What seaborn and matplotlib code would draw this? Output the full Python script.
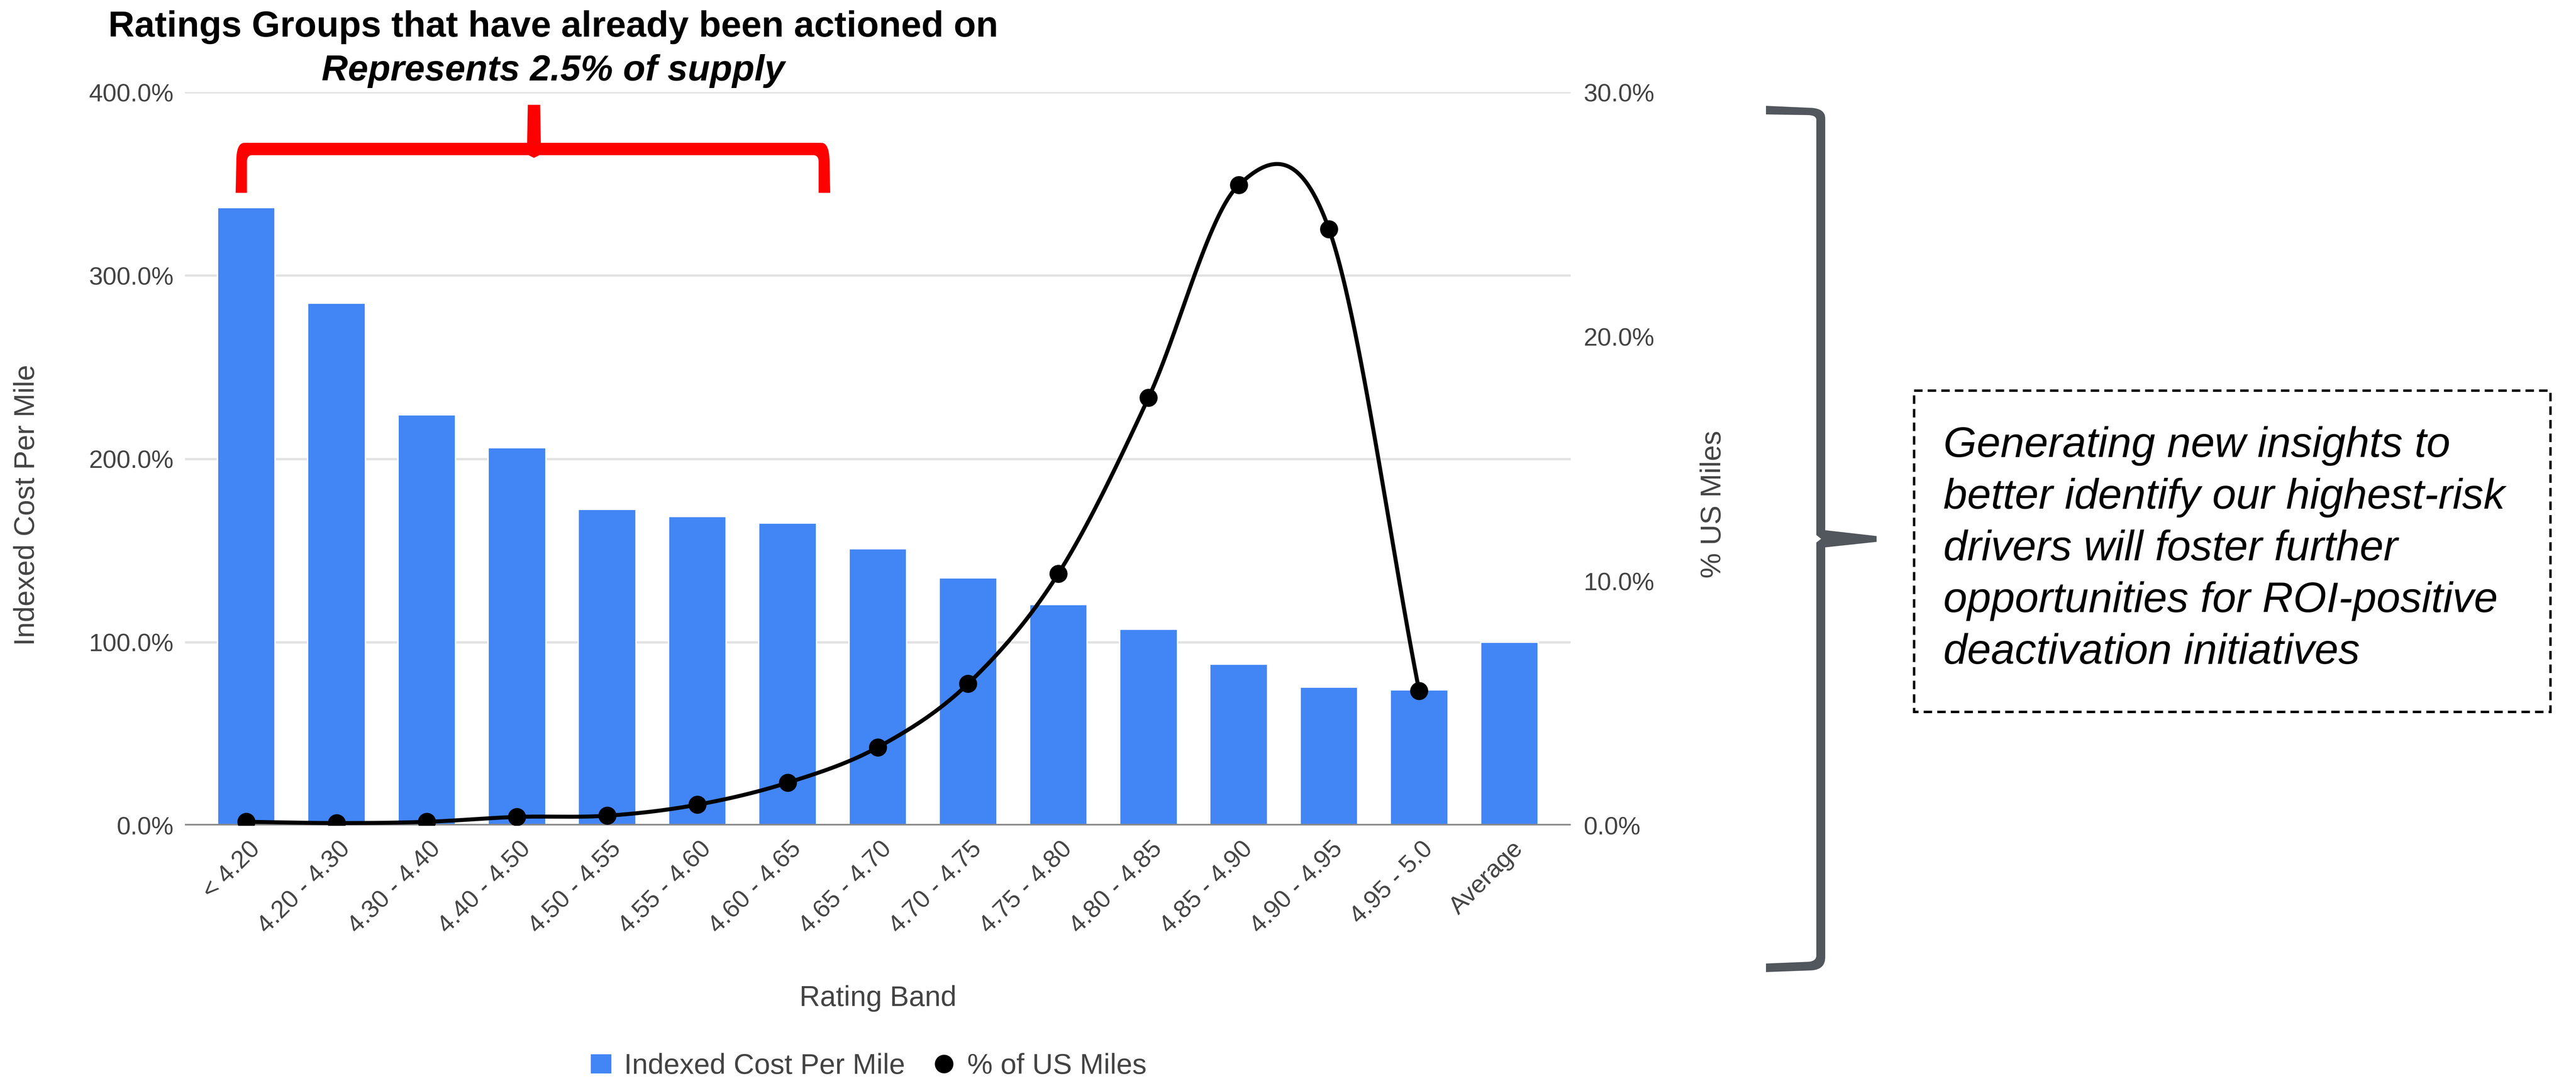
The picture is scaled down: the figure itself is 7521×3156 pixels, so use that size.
import numpy as np
import pandas as pd
import matplotlib
matplotlib.use("Agg")
import matplotlib.pyplot as plt
import matplotlib.transforms as mtransforms
import seaborn as sns
from matplotlib.patches import PathPatch, Rectangle, Patch
from matplotlib.path import Path
from matplotlib.lines import Line2D
from matplotlib.ticker import FuncFormatter, FixedLocator

# ---- data -------------------------------------------------------------
rating_bands = ["< 4.20", "4.20 - 4.30", "4.30 - 4.40", "4.40 - 4.50",
                "4.50 - 4.55", "4.55 - 4.60", "4.60 - 4.65", "4.65 - 4.70",
                "4.70 - 4.75", "4.75 - 4.80", "4.80 - 4.85", "4.85 - 4.90",
                "4.90 - 4.95", "4.95 - 5.0", "Average"]
indexed_cost_per_mile = [337, 285, 224, 206, 172.5, 168.5, 165, 151,
                         135, 120.5, 107, 88, 75.5, 74, 100]
# share of US miles per band (no value for the "Average" column)
pct_us_miles = [0.15, 0.1, 0.15, 0.35, 0.4, 0.85, 1.75, 3.2,
                5.8, 10.3, 17.5, 26.2, 24.4, 5.5]
left_ticks = [0, 100, 200, 300, 400]
right_ticks = [0, 10, 20, 30]

title_line1 = "Ratings Groups that have already been actioned on"
title_line2 = "Represents 2.5% of supply"
note_lines = ["Generating new insights to",
              "better identify our highest-risk",
              "drivers will foster further",
              "opportunities for ROI-positive",
              "deactivation initiatives"]

BAR_BLUE = "#4285f4"
TEXT_GREY = "#444444"

# ---- figure -----------------------------------------------------------
W, H, DPI = 7521, 3156, 300
sns.set_theme(style="white")
plt.rcParams["font.family"] = ["Liberation Sans", "DejaVu Sans"]

fig = plt.figure(figsize=(W / DPI, H / DPI), dpi=DPI)
fig.patch.set_facecolor("white")
# pixel coordinates measured from the top-left corner
PX = mtransforms.Affine2D().scale(1 / W, -1 / H).translate(0, 1) + fig.transFigure

ax = fig.add_axes([540 / W, 1 - 2410 / H, (4586 - 540) / W, (2410 - 269) / H])

df = pd.DataFrame({"Rating Band": rating_bands,
                   "Indexed Cost Per Mile": indexed_cost_per_mile})
sns.barplot(data=df, x="Rating Band", y="Indexed Cost Per Mile",
            order=rating_bands, color=BAR_BLUE, saturation=1, width=0.64,
            ax=ax, zorder=2)

ax.set_ylim(0, 400)
ax.yaxis.set_major_locator(FixedLocator(left_ticks))
ax.yaxis.set_major_formatter(FuncFormatter(lambda v, p: f"{v:.1f}%"))
ax.yaxis.grid(True, color="#e2e2e2", lw=1.6, zorder=0)
ax.set_axisbelow(True)
ax.axhline(0, color="#8a8a8a", lw=2.3, zorder=3)
for s in ax.spines.values():
    s.set_visible(False)
ax.tick_params(axis="y", length=0, pad=8, labelsize=17.5, labelcolor=TEXT_GREY)
ax.tick_params(axis="x", length=0, pad=14, labelsize=17.5, labelcolor=TEXT_GREY)
ax.set_xlabel("")
ax.set_ylabel("")

# secondary axis: share of US miles
ax2 = ax.twinx()
ax2.set_ylim(0, 30)
ax2.yaxis.set_major_locator(FixedLocator(right_ticks))
ax2.yaxis.set_major_formatter(FuncFormatter(lambda v, p: f"{v:.1f}%"))
ax2.grid(False)
for s in ax2.spines.values():
    s.set_visible(False)
ax2.tick_params(axis="y", length=0, pad=9, labelsize=17.5, labelcolor=TEXT_GREY)


def smooth_curve(ys, n=60):
    """Cubic Catmull-Rom curve through equally spaced points."""
    ys = np.asarray(ys, dtype=float)
    k = len(ys)
    xs_out, ys_out = [], []
    for i in range(k - 1):
        m0 = (ys[i + 1] - ys[i - 1]) / 2 if i > 0 else ys[1] - ys[0]
        m1 = (ys[i + 2] - ys[i]) / 2 if i + 2 < k else ys[-1] - ys[-2]
        t = np.linspace(0, 1, n)
        h00 = 2 * t**3 - 3 * t**2 + 1
        h10 = t**3 - 2 * t**2 + t
        h01 = -2 * t**3 + 3 * t**2
        h11 = t**3 - t**2
        xs_out.append(i + t)
        ys_out.append(h00 * ys[i] + h10 * m0 + h01 * ys[i + 1] + h11 * m1)
    return np.concatenate(xs_out), np.concatenate(ys_out)


cx, cy = smooth_curve(pct_us_miles)
ax2.plot(cx, cy, color="black", lw=2.8, solid_capstyle="round", zorder=4)
pts = pd.DataFrame({"pos": np.arange(len(pct_us_miles)), "miles": pct_us_miles})
sns.scatterplot(data=pts, x="pos", y="miles", ax=ax2, color="black",
                s=160, edgecolor="black", linewidth=0, legend=False, zorder=5)
ax2.set_xlabel("")
ax2.set_ylabel("")

ax.set_xlim(-0.68, 14.68)
ax.set_xticks(range(len(rating_bands)))
ax.set_xticklabels(rating_bands, rotation=45, ha="right", va="center",
                   rotation_mode="anchor")
shift = mtransforms.ScaledTranslation(29 / DPI, 0, fig.dpi_scale_trans)
for lab in ax.get_xticklabels():
    lab.set_transform(lab.get_transform() + shift)

# axis titles
fig.text(78 / W, 1 - 1475 / H, "Indexed Cost Per Mile", rotation=90,
         ha="center", va="center", fontsize=20, color=TEXT_GREY)
fig.text(5002 / W, 1 - 1472 / H, "% US Miles", rotation=90,
         ha="center", va="center", fontsize=20, color=TEXT_GREY)
fig.text(2563 / W, 1 - 2915 / H, "Rating Band", ha="center", va="center",
         fontsize=20, color=TEXT_GREY)

# legend
handles = [Patch(facecolor=BAR_BLUE, edgecolor="none"),
           Line2D([0], [0], marker="o", color="black", linestyle="None",
                  markersize=12)]
fig.legend(handles, ["Indexed Cost Per Mile", "% of US Miles"], loc="center",
           bbox_to_anchor=(2536 / W, 1 - 3113 / H), ncol=2, frameon=False,
           fontsize=20, labelcolor=TEXT_GREY, handlelength=0.72,
           handleheight=0.66, handletextpad=0.45, columnspacing=1.0)

# headline above the chart
fig.text(1615 / W, 1 - 107 / H, title_line1, ha="center", va="baseline",
         fontsize=25.5, fontweight="bold", color="black")
fig.text(1615 / W, 1 - 235 / H, title_line2, ha="center", va="baseline",
         fontsize=25.5, fontweight="bold", fontstyle="italic", color="black")

# red bracket over the already-actioned bands
M, L, C, Z = Path.MOVETO, Path.LINETO, Path.CURVE3, Path.CLOSEPOLY
red_verts = [
    ((688, 563), M), ((690, 470), L), ((690, 419), C), ((712, 417), C),
    ((1539, 417), L), ((1541, 306), L), ((1577, 306), L), ((1579, 417), L),
    ((2400, 417), L), ((2421, 419), C), ((2422, 470), C), ((2424, 563), L),
    ((2390, 563), L), ((2390, 470), L), ((2389, 453), C), ((2374, 453), C),
    ((1575, 453), L), ((1559, 461), L), ((1543, 453), L), ((736, 453), L),
    ((722, 453), C), ((721, 470), C), ((721, 563), L), ((688, 563), Z),
]
red_path = Path([v for v, _ in red_verts], [c for _, c in red_verts])
fig.patches.append(PathPatch(red_path, facecolor="#fe0000", edgecolor="none",
                             transform=PX, figure=fig))

# grey brace joining the chart to the note
grey_verts = [
    ((5156, 309), M), ((5290, 315), L), ((5329, 318), C), ((5329, 345), C),
    ((5329, 1548), L), ((5479, 1565), L), ((5479, 1582), L), ((5329, 1598), L),
    ((5329, 2795), L), ((5329, 2830), C), ((5290, 2833), C), ((5156, 2838), L),
    ((5156, 2813), L), ((5280, 2808), L), ((5303, 2806), C), ((5303, 2790), C),
    ((5303, 1584), L), ((5317, 1573), L), ((5303, 1562), L), ((5303, 350), L),
    ((5303, 337), C), ((5280, 336), C), ((5156, 334), L), ((5156, 309), Z),
]
grey_path = Path([v for v, _ in grey_verts], [c for _, c in grey_verts])
fig.patches.append(PathPatch(grey_path, facecolor="#52565d", edgecolor="none",
                             transform=PX, figure=fig))

# dashed note box
fig.patches.append(Rectangle((5588, 1140), 7446 - 5588, 2078 - 1140,
                             fill=False, edgecolor="black", lw=1.7,
                             linestyle=(0, (3.5, 2.1)), transform=PX, figure=fig))
for i, line in enumerate(note_lines):
    fig.text(5674 / W, 1 - (1334 + 151 * i) / H, line, ha="left",
             va="baseline", fontsize=30, fontstyle="italic", color="black")

fig.savefig("out.png", dpi=DPI, facecolor="white")
